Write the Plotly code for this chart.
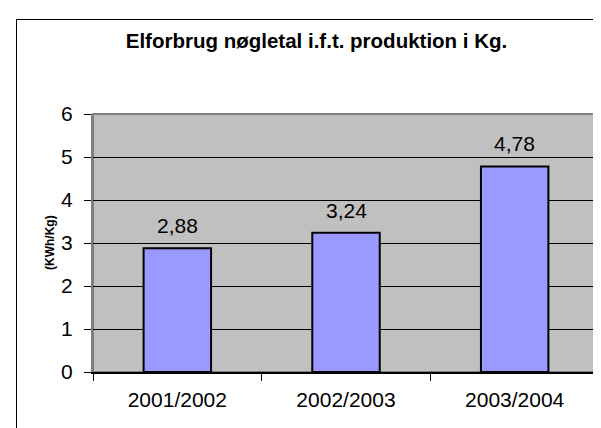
import plotly.graph_objects as go

# ---- data ----
categories = ["2001/2002", "2002/2003", "2003/2004"]
values = [2.88, 3.24, 4.78]
value_labels = ["2,88", "3,24", "4,78"]
y_tick_values = [0, 1, 2, 3, 4, 5, 6]

title_text = "Elforbrug nøgletal i.f.t. produktion i Kg."
y_title = "(KWh/Kg)"

FONT = "Arial, 'Liberation Sans', sans-serif"

W, H = 601, 428
ML, MR, MT, MB = 85, 10, 106, 64
PW = W - ML - MR
PH = H - MT - MB

fig = go.Figure()
fig.add_trace(go.Bar(
    x=categories,
    y=values,
    marker=dict(color="#9999FF", line=dict(color="#000000", width=2)),
    hoverinfo="skip",
))

# value labels above bars
for c, v, t in zip(categories, values, value_labels):
    fig.add_annotation(x=c, y=v, text=t, showarrow=False, yanchor="bottom",
                       yshift=9, font=dict(family=FONT, size=21, color="#000000"))

# y-axis title
fig.add_annotation(xref="paper", yref="paper", x=(42 - ML) / PW, y=0.5,
                   text="<b>" + y_title + "</b>", textangle=-90, showarrow=False,
                   xanchor="center", yanchor="middle",
                   font=dict(family=FONT, size=12, color="#000000"))

# plot-area border (gray)
fig.add_shape(type="rect", xref="paper", yref="paper", x0=0, y0=0, x1=1, y1=1,
              line=dict(color="#808080", width=2), layer="below")
# outer chart frame (left and top visible)
fig.add_shape(type="rect", xref="paper", yref="paper",
              x0=(8.5 - ML) / PW, x1=1.2, y0=-0.4, y1=(H - MB - 11.5) / PH,
              line=dict(color="#000000", width=1))

fig.update_layout(
    width=W, height=H,
    margin=dict(l=ML, r=MR, t=MT, b=MB),
    paper_bgcolor="#FFFFFF",
    plot_bgcolor="#C0C0C0",
    bargap=0.6,
    showlegend=False,
    title=dict(text="<b>" + title_text + "</b>", x=308.5 / W, xanchor="center",
               xref="container", yref="container", y=1 - 26 / H, yanchor="top",
               font=dict(family=FONT, size=20.5, color="#000000")),
    font=dict(family=FONT, color="#000000"),
)

fig.update_xaxes(
    showline=True, linecolor="#000000", linewidth=2,
    ticks="outside", tickson="boundaries", ticklen=7, tickcolor="#000000",
    tickwidth=1, showgrid=False, ticklabelstandoff=8,
    tickfont=dict(family=FONT, size=21, color="#000000"),
)
fig.update_yaxes(
    range=[0, 6], tickvals=y_tick_values, ticktext=[str(v) for v in y_tick_values],
    showline=True, linecolor="#808080", linewidth=2,
    ticks="outside", ticklen=7, tickcolor="#000000", tickwidth=1,
    showgrid=True, gridcolor="#000000", gridwidth=1,
    zeroline=False, ticklabelstandoff=7,
    tickfont=dict(family=FONT, size=21, color="#000000"),
)

fig.write_html("out.html")
